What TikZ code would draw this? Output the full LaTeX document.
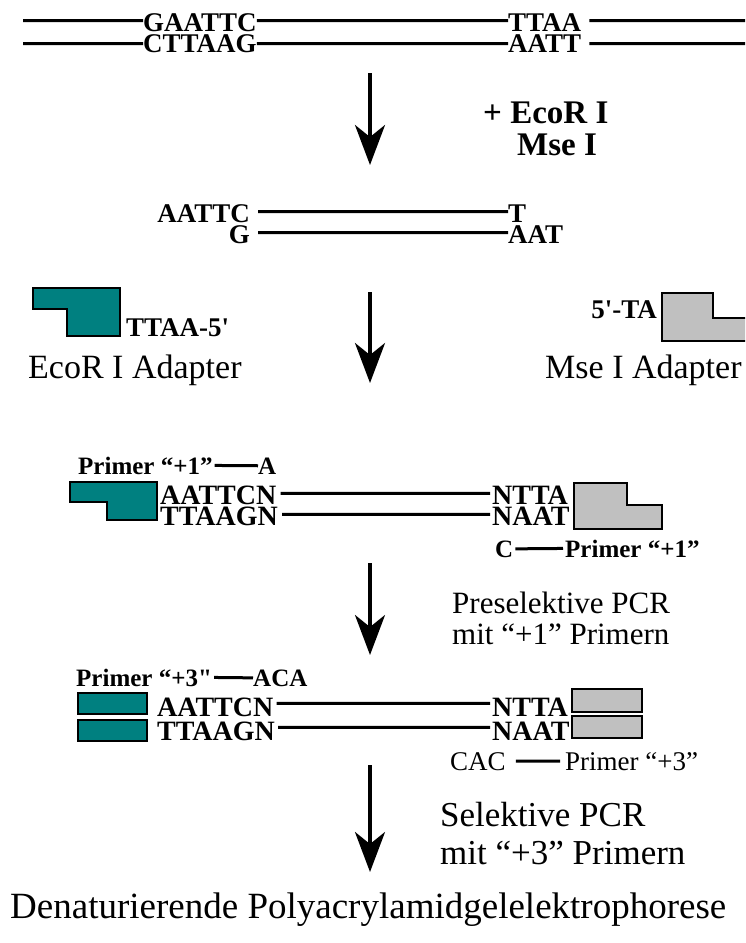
\documentclass[tikz,border=0pt]{standalone}
\usepackage{fontspec}
\setmainfont{Liberation Serif}[Ligatures=TeXOff]
\usetikzlibrary{arrows.meta}
\definecolor{adteal}{RGB}{0,128,128}
\definecolor{adgray}{RGB}{192,192,192}
\begin{document}
\begin{tikzpicture}[x=1pt,y=-1pt,
  dna/.style={line width=3pt},
  seq/.style={inner sep=0pt,font=\fontsize{27pt}{27pt}\selectfont\bfseries},
  seqb/.style={inner sep=0pt,font=\fontsize{28pt}{28pt}\selectfont\bfseries},
  prim/.style={inner sep=0pt,font=\fontsize{25pt}{25pt}\selectfont\bfseries},
  primreg/.style={inner sep=0pt,font=\fontsize{27pt}{27pt}\selectfont},
  enz/.style={inner sep=0pt,font=\fontsize{33pt}{33pt}\selectfont\bfseries},
  adlbl/.style={inner sep=0pt,font=\fontsize{34pt}{34pt}\selectfont},
  pcr1/.style={inner sep=0pt,font=\fontsize{31pt}{31pt}\selectfont},
  pcr2/.style={inner sep=0pt,font=\fontsize{35pt}{35pt}\selectfont},
  final/.style={inner sep=0pt,font=\fontsize{37pt}{37pt}\selectfont},
  eco/.style={fill=adteal,draw=black,line width=2.5pt,line join=miter},
  mse/.style={fill=adgray,draw=black,line width=2.5pt,line join=miter},
  flow/.style={line width=3.5pt,-{Stealth[length=40pt,width=30pt,inset=12pt]}}]
\useasboundingbox (0,0) rectangle (745,943);
\clip (0,0) rectangle (745,943);
\fill[white] (0,0) rectangle (745,943);

% ---- stage 1: genomic DNA
\node[seq,anchor=base west] (g1) at (143,31.5) {GAATTC};
\node[seq,anchor=base west] (c1) at (143,52.5) {CTTAAG};
\node[seq,anchor=base west] (t1) at (508,31.5) {TTAA};
\node[seq,anchor=base west] (a1) at (508,52.5) {AATT};
\coordinate (Lft) at (23,0);
\draw[dna] (Lft |- g1.west) ++(0,-2) -- ([yshift=2pt]g1.west)
           ([yshift=2pt]g1.east) -- ([yshift=2pt]t1.west)
           ([shift={(8pt,2pt)}]t1.east) -- ++(240,0);
\draw[dna] (Lft |- c1.west) -- (c1.west)
           (c1.east) -- (a1.west)
           ([xshift=8pt]a1.east) -- ++(240,0);

\coordinate (s1) at (370,73);
\coordinate (e1) at (370,165);
\draw[flow] (s1) -- (e1);
\node[enz,anchor=base west] (enz1) at (483,123) {+ EcoR I};
\node[enz,anchor=base west] (enz2) at (517,155) {Mse I};

% ---- stage 2: restriction fragment
\node[seq,anchor=base east] (a2) at (250,222) {AATTC};
\node[seq,anchor=base east] (g2) at (250,243) {G};
\node[seq,anchor=base west] (t2) at (508,222) {T};
\node[seq,anchor=base west] (aat2) at (508,243) {AAT};
\draw[dna] ([shift={(8pt,1.5pt)}]a2.east) -- ([yshift=1.5pt]t2.west);
\draw[dna] ([shift={(8pt,1.5pt)}]g2.east) -- ([yshift=1.5pt]aat2.west);

% adapters
\draw[eco] (33,288) -- (120,288) -- (120,336) -- (67,336) -- (67,309) -- (33,309) -- cycle;
\node[seq,anchor=base west] (tt) at (126,336) {TTAA-5'};
\node[adlbl,anchor=base west] (ecoad) at (28,378) {EcoR I Adapter};
\draw[mse] (662,293) -- (713,293) -- (713,318) -- (770,318) -- (770,341) -- (662,341) -- cycle;
\node[seq,anchor=base east] (ta) at (657,318) {5'-TA};
\node[adlbl,anchor=base west] (msead) at (545,378) {Mse I Adapter};

\coordinate (s2) at (370,292);
\coordinate (e2) at (370,383);
\draw[flow] (s2) -- (e2);

% ---- stage 3: ligated, +1 primers
\node[prim,anchor=base west] (p31) at (78,474) {Primer “+1”};
\node[prim,anchor=base west] (a31) at (258,474) {A};
\draw[dna] ([xshift=2pt]p31.east) -- (a31.west);
\draw[eco] (70,482) -- (157,482) -- (157,520) -- (107,520) -- (107,502) -- (70,502) -- cycle;
\node[seqb,anchor=base west] (a3) at (160,504) {AATTCN};
\node[seqb,anchor=base west] (t3) at (160,525) {TTAAGN};
\node[seqb,anchor=base west] (n3) at (492,504) {NTTA};
\node[seqb,anchor=base west] (m3) at (492,525) {NAAT};
\draw[dna] ([shift={(4pt,1.5pt)}]a3.east) -- ([shift={(-2pt,1.5pt)}]n3.west);
\draw[dna] ([shift={(4pt,1.5pt)}]t3.east) -- ([shift={(-2pt,1.5pt)}]m3.west);
\draw[mse] (574,483) -- (627,483) -- (627,505) -- (662,505) -- (662,529) -- (574,529) -- cycle;
\node[prim,anchor=base west] (c3) at (495,557) {C};
\node[prim,anchor=base west] (p32) at (565,557) {Primer “+1”};
\draw[dna] ([xshift=2pt]c3.east) -- ([xshift=-2pt]p32.west);

\coordinate (s3) at (370,563);
\coordinate (e3) at (370,655);
\draw[flow] (s3) -- (e3);
\node[pcr1,anchor=base west] (pre1) at (452,613) {Preselektive PCR};
\node[pcr1,anchor=base west] (pre2) at (452,644) {mit “+1” Primern};

% ---- stage 4: +3 primers
\node[prim,anchor=base west] (p41) at (76,686) {Primer “+3"};
\node[prim,anchor=base west] (aca) at (253,686) {ACA};
\draw[dna] ([xshift=2pt]p41.east) -- (aca.west);
\draw[eco] (78,693) rectangle (147,714);
\draw[eco] (78,720) rectangle (147,741);
\node[seqb,anchor=base west] (a4) at (157,716) {AATTCN};
\node[seqb,anchor=base west] (t4) at (157,740) {TTAAGN};
\node[seqb,anchor=base west] (n4) at (492,716) {NTTA};
\node[seqb,anchor=base west] (m4) at (492,740) {NAAT};
\draw[dna] ([shift={(3pt,3.5pt)}]a4.east) -- ([shift={(-2pt,3.5pt)}]n4.west);
\draw[dna] ([shift={(3pt,3.5pt)}]t4.east) -- ([shift={(-2pt,3.5pt)}]m4.west);
\draw[mse] (572,689) rectangle (642,712);
\draw[mse] (572,716) rectangle (642,738);
\node[primreg,anchor=base west] (cac) at (450,770) {CAC};
\node[primreg,anchor=base west] (p42) at (565,770) {Primer “+3”};
\draw[dna] ([xshift=10pt]cac.east) -- ([xshift=-5pt]p42.west);

\coordinate (s4) at (370,765);
\coordinate (e4) at (370,872);
\draw[flow] (s4) -- (e4);
\node[pcr2,anchor=base west] (sel1) at (440,826) {Selektive PCR};
\node[pcr2,anchor=base west] (sel2) at (440,864) {mit “+3” Primern};

\node[final,anchor=base west] (fin) at (10,918) {Denaturierende Polyacrylamidgelelektrophorese};
\end{tikzpicture}
\end{document}
